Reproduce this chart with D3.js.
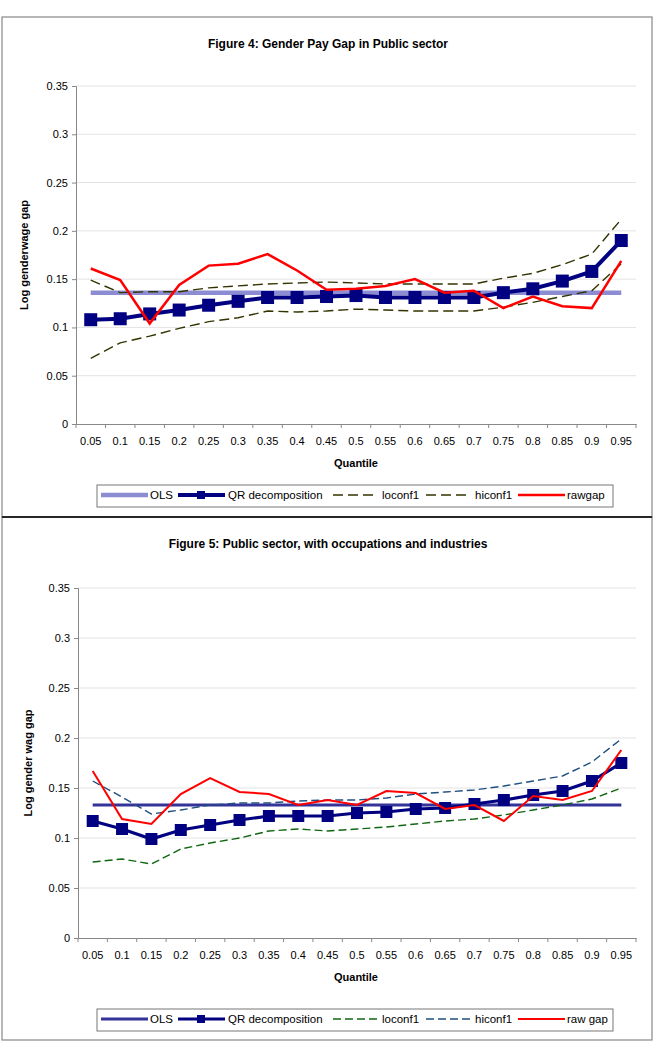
<!DOCTYPE html>
<html>
<head>
<meta charset="utf-8">
<script src="https://cdn.jsdelivr.net/npm/d3@7"></script>
<style>
  body { margin: 0; background: #fff; }
  svg { display: block; }
  text { font-family: "Liberation Sans", Arial, sans-serif; fill: #000; }
  .title { font-weight: bold; font-size: 12px; }
</style>
</head>
<body>
<svg id="chart" width="657" height="1057"></svg>
<script>
var quantiles = ["0.05","0.1","0.15","0.2","0.25","0.3","0.35","0.4","0.45","0.5",
                 "0.55","0.6","0.65","0.7","0.75","0.8","0.85","0.9","0.95"];
var yTicks = [0, 0.05, 0.1, 0.15, 0.2, 0.25, 0.3, 0.35];

// figure 4
var fig4Ols = 0.136;
var fig4Qr  = [0.108,0.109,0.114,0.118,0.123,0.127,0.131,0.131,0.132,0.133,0.131,0.131,0.131,0.131,0.136,0.140,0.148,0.158,0.190];
var fig4Lo  = [0.068,0.084,0.091,0.099,0.106,0.110,0.117,0.116,0.117,0.119,0.118,0.117,0.117,0.117,0.121,0.126,0.132,0.138,0.166];
var fig4Hi  = [0.149,0.136,0.137,0.137,0.141,0.143,0.145,0.146,0.147,0.146,0.145,0.145,0.145,0.145,0.151,0.156,0.165,0.176,0.212];
var fig4Raw = [0.161,0.149,0.104,0.144,0.164,0.166,0.176,0.159,0.139,0.140,0.143,0.150,0.136,0.138,0.120,0.132,0.122,0.120,0.169];

// figure 5
var fig5Ols = 0.133;
var fig5Qr  = [0.117,0.109,0.099,0.108,0.113,0.118,0.122,0.122,0.122,0.125,0.126,0.129,0.130,0.134,0.138,0.143,0.147,0.157,0.175];
var fig5Lo  = [0.076,0.079,0.074,0.089,0.095,0.100,0.107,0.109,0.107,0.109,0.111,0.114,0.117,0.119,0.123,0.128,0.133,0.139,0.150];
var fig5Hi  = [0.157,0.141,0.124,0.128,0.133,0.135,0.135,0.137,0.138,0.138,0.140,0.144,0.146,0.148,0.152,0.157,0.162,0.176,0.199];
var fig5Raw = [0.167,0.119,0.114,0.144,0.160,0.146,0.144,0.133,0.138,0.133,0.147,0.145,0.129,0.133,0.117,0.142,0.138,0.147,0.188];

var svg = d3.select("#chart");

// frames
svg.append("rect").attr("x", 2).attr("y", 17).attr("width", 650).attr("height", 500)
  .attr("fill", "none").attr("stroke", "#888").attr("stroke-width", 1.2);
svg.append("rect").attr("x", 2).attr("y", 517).attr("width", 650).attr("height", 523)
  .attr("fill", "none").attr("stroke", "#888").attr("stroke-width", 1.2);
svg.append("line").attr("x1", 2).attr("x2", 652).attr("y1", 517).attr("y2", 517)
  .attr("stroke", "#000").attr("stroke-width", 1.5);

function drawChart(cfg) {
  var g = svg.append("g");
  var x = d3.scaleBand().domain(quantiles).range([cfg.left, 636]);
  var y = d3.scaleLinear().domain([0, 0.35]).range([cfg.bottom, cfg.top]);
  var cx = function (d, i) { return x(quantiles[i]) + x.bandwidth() / 2; };

  g.append("text").attr("class", "title")
    .attr("x", 328).attr("y", cfg.titleY).attr("text-anchor", "middle")
    .text(cfg.title);

  // grid
  g.selectAll(".grid").data(yTicks.slice(1)).enter().append("line")
    .attr("x1", cfg.left).attr("x2", 636)
    .attr("y1", function (d) { return y(d); }).attr("y2", function (d) { return y(d); })
    .attr("stroke", "#e3e3e3").attr("stroke-width", 1);

  // y axis
  var ya = g.append("g").attr("transform", "translate(" + cfg.left + ",0)")
    .call(d3.axisLeft(y).tickValues(yTicks).tickSize(4).tickPadding(4)
      .tickFormat(function (d) { return String(d); }));
  ya.select(".domain").attr("stroke", "#888");
  ya.selectAll(".tick line").attr("stroke", "#888");
  ya.selectAll("text").attr("font-size", "11px").attr("font-family", "Liberation Sans, Arial, sans-serif");

  // x axis, ticks sit on the category edges like excel
  var xa = g.append("g").attr("transform", "translate(0," + cfg.bottom + ")")
    .call(d3.axisBottom(x).tickSize(0).tickPadding(13));
  xa.select(".domain").attr("stroke", "#888");
  xa.selectAll("text").attr("font-size", "11px").attr("font-family", "Liberation Sans, Arial, sans-serif");
  var edges = quantiles.map(function (q) { return x(q); }).concat([636]);
  xa.selectAll(".edge").data(edges).enter().append("line")
    .attr("x1", function (d) { return d; }).attr("x2", function (d) { return d; })
    .attr("y1", 0).attr("y2", 4).attr("stroke", "#888");

  g.append("text").attr("x", 356).attr("y", cfg.bottom + 43).attr("text-anchor", "middle")
    .attr("font-weight", "bold").attr("font-size", "11px").text("Quantile");
  g.append("text")
    .attr("transform", "translate(" + cfg.yLabelX + "," + ((cfg.top + cfg.bottom) / 2) + ") rotate(-90)")
    .attr("text-anchor", "middle").attr("font-weight", "bold").attr("font-size", "11px")
    .text(cfg.yLabel);

  var line = d3.line().x(cx).y(function (d) { return y(d); });

  // OLS
  g.append("path").datum(quantiles.map(function () { return cfg.ols; }))
    .attr("d", line).attr("fill", "none").attr("stroke", cfg.olsColor).attr("stroke-width", cfg.olsWidth);
  // confidence bands
  g.append("path").datum(cfg.lo).attr("d", line).attr("fill", "none")
    .attr("stroke", cfg.loColor).attr("stroke-width", 1.4).attr("stroke-dasharray", cfg.dash);
  g.append("path").datum(cfg.hi).attr("d", line).attr("fill", "none")
    .attr("stroke", cfg.hiColor).attr("stroke-width", 1.4).attr("stroke-dasharray", cfg.dash);
  // QR
  g.append("path").datum(cfg.qr).attr("d", line).attr("fill", "none")
    .attr("stroke", "#000080").attr("stroke-width", cfg.qrWidth);
  var ms = cfg.marker;
  g.selectAll(".mk").data(cfg.qr).enter().append("rect")
    .attr("x", function (d, i) { return cx(d, i) - ms / 2; })
    .attr("y", function (d) { return y(d) - ms / 2; })
    .attr("width", ms).attr("height", ms).attr("fill", "#000080");
  // raw gap
  g.append("path").datum(cfg.raw).attr("d", line).attr("fill", "none")
    .attr("stroke", "#ff0000").attr("stroke-width", cfg.rawWidth);

  // legend
  var ly = cfg.legendY;
  var lg = g.append("g");
  lg.append("rect").attr("x", 97).attr("y", ly - 10).attr("width", 516).attr("height", 22)
    .attr("fill", "#fff").attr("stroke", "#777").attr("stroke-width", 1);
  function sample(x1, x2, color, w, dash) {
    lg.append("line").attr("x1", x1).attr("x2", x2).attr("y1", ly).attr("y2", ly)
      .attr("stroke", color).attr("stroke-width", w).attr("stroke-dasharray", dash || null);
  }
  function label(xp, t) {
    lg.append("text").attr("x", xp).attr("y", ly + 4).attr("font-size", "11.5px").text(t);
  }
  sample(101, 148, cfg.olsColor, cfg.olsWidth);
  label(150, "OLS");
  sample(178, 225, "#000080", cfg.qrWidth);
  lg.append("rect").attr("x", 197).attr("y", ly - 4).attr("width", 8).attr("height", 8).attr("fill", "#000080");
  label(228, "QR decomposition");
  sample(333, 377, cfg.loColor, 1.4, cfg.dash);
  label(382, "loconf1");
  sample(426, 470, cfg.hiColor, 1.4, cfg.dash);
  label(475, "hiconf1");
  sample(518, 565, "#ff0000", cfg.rawWidth);
  label(567, cfg.rawName);
}

drawChart({
  title: "Figure 4: Gender Pay Gap in Public sector", titleY: 48,
  top: 86, bottom: 424, left: 76, yLabel: "Log genderwage gap", yLabelX: 28,
  ols: fig4Ols, qr: fig4Qr, lo: fig4Lo, hi: fig4Hi, raw: fig4Raw,
  olsColor: "#8c8cd2", olsWidth: 4.5, qrWidth: 4, marker: 13, rawWidth: 2.5,
  loColor: "#333300", hiColor: "#333300", dash: "10,5",
  legendY: 495, rawName: "rawgap"
});

drawChart({
  title: "Figure 5: Public sector, with occupations and industries", titleY: 548,
  top: 588, bottom: 938, left: 78, yLabel: "Log gender wag gap", yLabelX: 32,
  ols: fig5Ols, qr: fig5Qr, lo: fig5Lo, hi: fig5Hi, raw: fig5Raw,
  olsColor: "#333399", olsWidth: 3, qrWidth: 3.2, marker: 12, rawWidth: 2,
  loColor: "#116611", hiColor: "#1f4f7f", dash: "8,4",
  legendY: 1019, rawName: "raw gap"
});
</script>
</body>
</html>
